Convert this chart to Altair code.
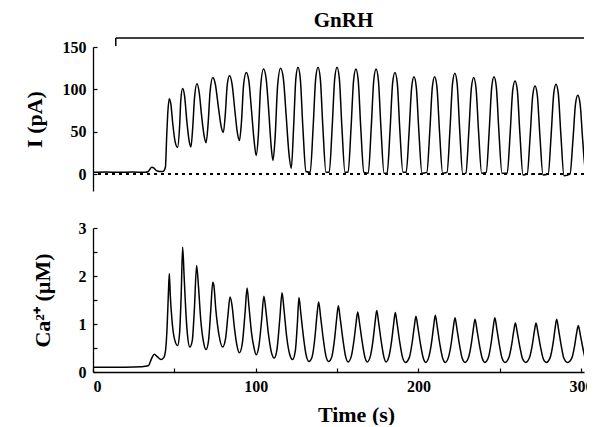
import altair as alt
import pandas as pd

# ---- current trace I (pA) ----
i_time = [0, 8, 16, 24, 32, 34, 36, 37.5, 39, 41, 43, 44.5, 45.3, 45.9, 46.9, 47.9, 49, 50.5, 52,
          53.2, 54, 55.1, 56.3, 57.7, 59.2, 60.2, 61.3, 62.4, 63.9, 65.3, 66.8, 68.3, 69.5,
          70.7, 72, 73.6, 75.2, 77, 78.8, 80.1, 81.3, 82.5, 83.9, 85.5, 87.2, 88.8, 90,
          91.2, 92.6, 94.2, 95.8, 97.3, 99, 100.3, 101.6, 103, 104.8, 106.4, 108, 109.5, 110.6,
          111.9, 113.5, 115.3, 117, 118.7, 120.4, 121.9,
          123.3, 124.7, 126, 127.4, 129, 130.9,
          133.5, 135.3, 136.9, 138.3, 139.7, 141.3, 143.2,
          145.2, 147, 148.6, 150, 151.4, 153, 154.9,
          156.8, 158.6, 160.2, 161.6, 163, 164.6, 166.5,
          169.2, 171, 172.6, 174, 175.4, 177, 178.9,
          180.8, 182.6, 184.2, 185.6, 187, 188.6, 190.5,
          192.5, 194.3, 195.9, 197.3, 198.7, 200.3, 202.2,
          205.2, 207, 208.6, 210, 211.4, 213, 214.9,
          217.6, 219.4, 221, 222.4, 223.8, 225.4, 227.3,
          229.2, 231, 232.6, 234, 235.4, 237, 238.9,
          241.7, 243.5, 245.1, 246.5, 247.9, 249.5, 251.4,
          254.6, 256.4, 258, 259.4, 260.8, 262.4, 264.3,
          266.9, 268.7, 270.3, 271.7, 273.1, 274.7, 276.6,
          279.8, 281.6, 283.2, 284.6, 286, 287.6, 289.5,
          293.2, 295, 296.6, 298, 299.4, 301, 302.9,
          305, 306]
i_pa = [2, 2.5, 2, 2.5, 2, 3, 8, 7, 4, 3, 3, 8, 45, 70, 89, 82, 60, 38, 31.6,
        55, 88, 101, 92, 62, 38, 32, 55, 90, 106.5, 96, 68, 45, 37,
        58, 98, 114, 106, 80, 56, 49, 70, 105, 116, 106, 75, 48, 39.5,
        60, 106, 120, 110, 78, 40, 22, 45, 102, 124, 113, 75, 33, 16,
        42, 105, 125, 113, 70, 25, 7,
        55, 113, 126, 113, 55, 3,
        2, 55, 113, 126, 113, 55, 2,
        2, 55, 113, 126, 113, 55, 2,
        2, 54, 111, 124, 111, 54, 2,
        1, 54, 111, 124, 111, 54, 1,
        1, 52, 108, 120, 108, 52, 2,
        2, 50, 103, 115, 103, 50, 1,
        2, 50, 103, 115, 103, 50, 1,
        2, 52, 107, 119, 107, 52, 0,
        1, 50, 102, 114, 102, 50, 1,
        2, 50, 103, 115, 103, 50, 1,
        1, 48, 99, 110, 99, 48, -1,
        0, 45, 93, 104, 93, 45, -1,
        0, 46, 95, 106, 95, 46, -2,
        0, 40, 83, 93, 83, 40, 1,
        2, 2]

# ---- calcium trace Ca2+ (uM) ----
ca_time = [0, 10, 20, 30, 34, 36, 37.7, 39.5, 41.8, 43.5, 44.6, 45.5, 46.3, 46.9, 47.5, 48.5, 50, 52,
           53.2, 54.2, 55.1, 56, 57, 58, 59.5, 61, 62.3, 63.7, 64.8, 66.2, 67.8, 69.5,
           71, 72.4, 73.6, 74.3, 75.5, 77.3, 79.7, 81.5, 83, 84.2, 85.4, 87, 88.5, 90,
           91.8, 93.5, 94.7, 95.9, 97.5, 99, 100.3, 102, 103.7, 105, 106.2, 107.8, 109.6, 111.4,
           113, 114.8, 116.2, 117.4, 119, 120.8, 122.7,
           124.4, 125.6, 126.6, 127.8, 129.4, 131, 132.7,
           134.7, 136.5, 137.7, 138.7, 139.9, 141.5, 143.2, 144.8,
           146.8, 148.6, 149.8, 150.8, 152, 153.6, 155.3, 156.8,
           158.7, 160.5, 161.7, 162.7, 163.9, 165.5, 167.2, 168.6,
           170.4, 172.2, 173.4, 174.4, 175.6, 177.2, 178.9, 180.1,
           181.8, 183.6, 184.8, 185.8, 187, 188.6, 190.3, 192.1,
           194.5, 196.3, 197.5, 198.5, 199.7, 201.3, 203, 204.5,
           206.4, 208.2, 209.4, 210.4, 211.6, 213.2, 214.9, 216.5,
           218.5, 220.3, 221.5, 222.5, 223.7, 225.3, 227, 228.7,
           230.8, 232.6, 233.8, 234.8, 236, 237.6, 239.3, 240.9,
           243, 244.8, 246, 247, 248.2, 249.8, 251.5, 253.3,
           255.6, 257.4, 258.6, 259.6, 260.8, 262.4, 264.1, 266,
           268.3, 270.1, 271.3, 272.3, 273.5, 275.1, 276.8, 278.6,
           281, 282.8, 284, 285, 286.2, 287.8, 289.5, 291.6,
           294.3, 296.1, 297.3, 298.3, 299.5, 301.1, 302.8, 305, 306]
ca_um = [0.1, 0.1, 0.1, 0.11, 0.13, 0.28, 0.37, 0.32, 0.26, 0.3, 0.45, 0.9, 1.6, 2.05, 1.6, 1.1, 0.7, 0.55,
         0.8, 1.6, 2.6, 2.0, 1.3, 0.8, 0.52, 0.65, 1.3, 2.22, 1.8, 1.1, 0.65, 0.47,
         0.65, 1.3, 1.87, 1.8, 1.3, 0.8, 0.52, 0.7, 1.2, 1.56, 1.4, 0.9, 0.55, 0.4,
         0.6, 1.25, 1.75, 1.35, 0.8, 0.5, 0.36, 0.55, 1.1, 1.58, 1.3, 0.8, 0.42, 0.29,
         0.45, 1.1, 1.65, 1.3, 0.75, 0.38, 0.26,
         0.45, 1.0, 1.55, 1.2, 0.72, 0.35, 0.22,
         0.32, 0.75, 1.2, 1.46, 1.15, 0.7, 0.33, 0.22,
         0.32, 0.72, 1.12, 1.38, 1.1, 0.68, 0.32, 0.21,
         0.32, 0.68, 1.02, 1.25, 1.0, 0.62, 0.3, 0.21,
         0.32, 0.68, 1.04, 1.28, 1.02, 0.63, 0.3, 0.21,
         0.31, 0.66, 1.0, 1.24, 0.99, 0.61, 0.3, 0.2,
         0.31, 0.64, 0.95, 1.16, 0.93, 0.58, 0.29, 0.2,
         0.31, 0.64, 0.96, 1.18, 0.94, 0.58, 0.29, 0.2,
         0.31, 0.62, 0.93, 1.13, 0.9, 0.56, 0.28, 0.2,
         0.3, 0.6, 0.9, 1.1, 0.88, 0.55, 0.28, 0.2,
         0.3, 0.62, 0.93, 1.13, 0.9, 0.56, 0.28, 0.2,
         0.3, 0.58, 0.85, 1.02, 0.82, 0.52, 0.27, 0.2,
         0.3, 0.58, 0.85, 1.02, 0.82, 0.52, 0.27, 0.2,
         0.3, 0.6, 0.9, 1.1, 0.88, 0.55, 0.28, 0.2,
         0.29, 0.56, 0.82, 0.97, 0.78, 0.5, 0.26, 0.2, 0.19]

gnrh_window = [14, 301.8]   # GnRH application (s), runs past the visible edge
x_domain = [0, 301.8]
i_domain = [-20, 150]
ca_domain = [0, 3]

FONT = "Liberation Serif"

i_df = pd.DataFrame({"t": i_time, "v": i_pa})
ca_df = pd.DataFrame({"t": ca_time, "v": ca_um})
gnrh_df = pd.DataFrame({"start": [gnrh_window[0]], "end": [gnrh_window[1]]})

xscale = alt.Scale(domain=x_domain, nice=False, zero=False)
inward = alt.ExprRef("-4")

i_line = alt.Chart(i_df).mark_line(color="black", strokeWidth=1.5, interpolate="monotone", clip=True).encode(
    x=alt.X("t:Q", scale=xscale, axis=None),
    y=alt.Y("v:Q", scale=alt.Scale(domain=i_domain, nice=False, zero=False),
            axis=alt.Axis(values=list(range(0, 151, 25)),
                          labelExpr="datum.value % 50 == 0 ? datum.label : ''",
                          title="I (pA)", tickSize=inward, labelPadding=11, titlePadding=16)),
)
zero_line = alt.Chart(i_df).mark_rule(color="black", strokeWidth=1, strokeDash=[3, 4]).encode(
    y=alt.datum(0)
)
gnrh_bar = alt.Chart(gnrh_df).mark_rule(color="black", strokeWidth=1.5).encode(
    x=alt.X("start:Q", scale=xscale), x2="end:Q", y=alt.value(-9)
)
gnrh_tick = alt.Chart(gnrh_df).mark_rule(color="black", strokeWidth=1.5).encode(
    x=alt.X("start:Q", scale=xscale), y=alt.value(-9), y2=alt.value(-1)
)

top = alt.layer(zero_line, i_line, gnrh_bar, gnrh_tick).properties(
    width=491, height=144,
    title=alt.TitleParams("GnRH", font=FONT, fontSize=21, fontWeight="bold", color="black",
                          anchor="middle", dx=5, offset=6),
)

ca_line = alt.Chart(ca_df).mark_line(color="black", strokeWidth=1.5, interpolate="monotone", clip=True).encode(
    x=alt.X("t:Q", scale=xscale,
            axis=alt.Axis(values=list(range(0, 301, 50)),
                          labelExpr="datum.value % 100 == 0 ? datum.label : ''",
                          title="Time (s)", tickSize=inward, labelPadding=10, titlePadding=10,
                          titleX=263)),
    y=alt.Y("v:Q", scale=alt.Scale(domain=ca_domain, nice=False, zero=False),
            axis=alt.Axis(values=[0, 0.5, 1, 1.5, 2, 2.5, 3],
                          labelExpr="datum.value % 1 == 0 ? format(datum.value, 'd') : ''",
                          title="Ca²⁺ (µM)", tickSize=inward, labelPadding=11, titlePadding=24)),
).properties(width=491, height=144)

chart = alt.vconcat(top, ca_line, spacing=37, bounds="flush").properties(
    padding={"left": 15, "top": 2, "right": -7, "bottom": 0}
).configure_view(stroke=None).configure_axis(
    domainColor="black", tickColor="black", labelColor="black", titleColor="black",
    labelFont=FONT, titleFont=FONT, labelFontSize=16, titleFontSize=22,
    labelFontWeight="bold", titleFontWeight="bold", grid=False,
    domainWidth=1.3, tickWidth=1.2,
)

chart.save("out.html", embed_options={"renderer": "svg", "actions": False})
